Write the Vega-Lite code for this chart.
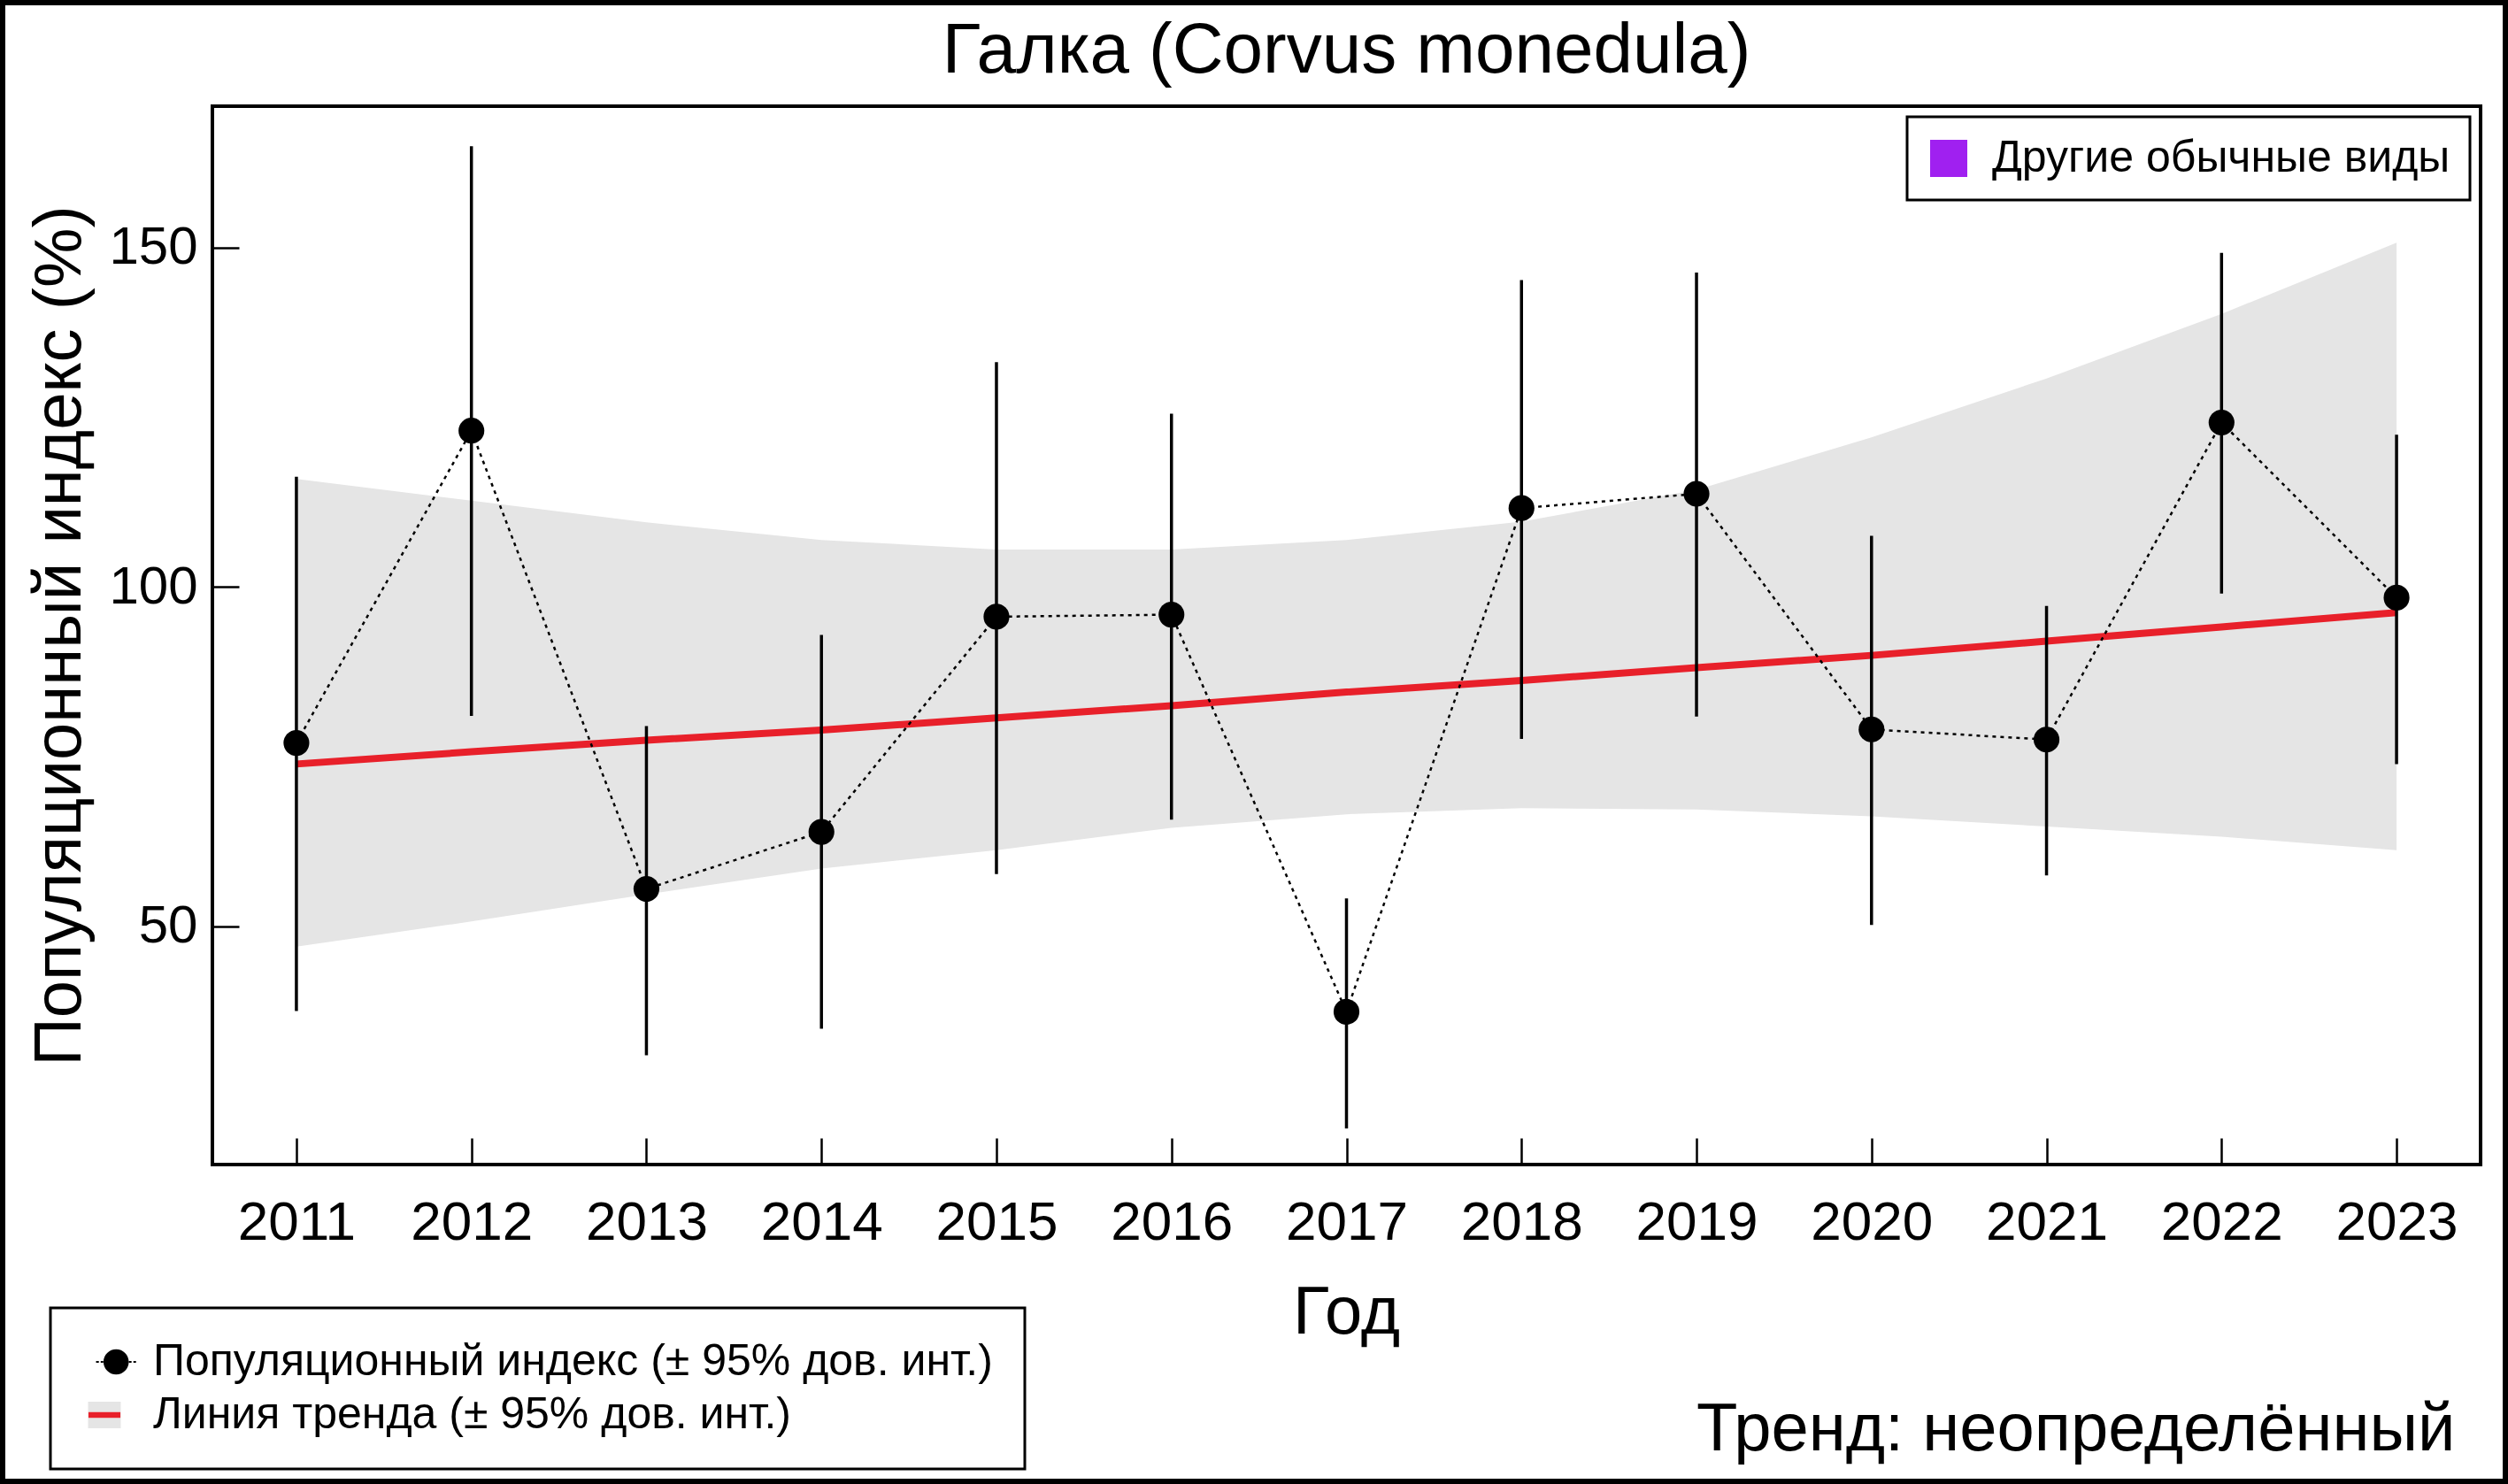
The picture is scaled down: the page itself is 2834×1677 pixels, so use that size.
{
  "$schema": "https://vega.github.io/schema/vega-lite/v6.json",
  "width": 2563,
  "height": 1196,
  "autosize": {"type": "none"},
  "padding": {"left": 240, "top": 120, "right": 31, "bottom": 361},
  "background": "white",
  "title": {"text": "Галка (Corvus monedula)", "fontSize": 80, "font": "Liberation Sans", "fontWeight": "normal", "color": "black", "anchor": "middle", "frame": "group", "baseline": "alphabetic", "offset": -162},
  "data": {"values": [
    {"year": 2011, "index": 77.0, "lo": 37.5, "hi": 116.2, "trend": 73.9, "tlo": 47.0, "thi": 115.9},
    {"year": 2012, "index": 123.0, "lo": 81.0, "hi": 164.9, "trend": 75.7, "tlo": 50.7, "thi": 112.7},
    {"year": 2013, "index": 55.5, "lo": 31.0, "hi": 79.5, "trend": 77.4, "tlo": 54.7, "thi": 109.5},
    {"year": 2014, "index": 63.9, "lo": 34.9, "hi": 92.9, "trend": 78.9, "tlo": 58.5, "thi": 106.9},
    {"year": 2015, "index": 95.6, "lo": 57.7, "hi": 133.1, "trend": 80.7, "tlo": 61.2, "thi": 105.5},
    {"year": 2016, "index": 95.9, "lo": 65.7, "hi": 125.5, "trend": 82.5, "tlo": 64.5, "thi": 105.5},
    {"year": 2017, "index": 37.4, "lo": 20.2, "hi": 54.1, "trend": 84.5, "tlo": 66.5, "thi": 106.9},
    {"year": 2018, "index": 111.6, "lo": 77.6, "hi": 145.2, "trend": 86.2, "tlo": 67.4, "thi": 109.6},
    {"year": 2019, "index": 113.7, "lo": 80.9, "hi": 146.3, "trend": 88.1, "tlo": 67.2, "thi": 114.3},
    {"year": 2020, "index": 79.0, "lo": 50.2, "hi": 107.5, "trend": 89.9, "tlo": 66.2, "thi": 122.0},
    {"year": 2021, "index": 77.5, "lo": 57.5, "hi": 97.2, "trend": 92.0, "tlo": 64.7, "thi": 130.7},
    {"year": 2022, "index": 124.2, "lo": 99.0, "hi": 149.2, "trend": 94.1, "tlo": 63.2, "thi": 140.2},
    {"year": 2023, "index": 98.4, "lo": 73.9, "hi": 122.4, "trend": 96.2, "tlo": 61.2, "thi": 150.7}
  ]},
  "encoding": {
    "x": {"field": "year", "type": "quantitative",
      "scale": {"domain": [2010.52, 2023.48], "nice": false, "zero": false},
      "axis": {"values": [2011, 2012, 2013, 2014, 2015, 2016, 2017, 2018, 2019, 2020, 2021, 2022, 2023], "format": "d", "title": "Год",
        "labelFontSize": 62, "titleFontSize": 76, "tickSize": -30, "tickWidth": 2.5, "labelPadding": 65,
        "labelFlush": false, "labelOverlap": false,
        "titleX": 1281, "titleY": 190, "titleBaseline": "alphabetic", "titleAlign": "center"}}
  },
  "layer": [
    {"mark": {"type": "area", "color": "#E5E5E5", "opacity": 1},
     "encoding": {
       "y": {"field": "tlo", "type": "quantitative",
         "scale": {"domain": [14.9, 170.8], "nice": false, "zero": false},
         "axis": {"values": [50, 100, 150], "title": "Популяционный индекс (%)", "labelFontSize": 60, "titleFontSize": 76,
           "tickSize": -30, "tickWidth": 2.5, "labelPadding": 47, "titleAngle": 270,
           "titleX": -150, "titleY": 598, "titleBaseline": "alphabetic", "titleAlign": "center"}},
       "y2": {"field": "thi"}}},
    {"mark": {"type": "line", "color": "#E8202A", "strokeWidth": 8},
     "encoding": {"y": {"field": "trend", "type": "quantitative", "scale": {"domain": [14.9, 170.8], "nice": false, "zero": false}}}},
    {"mark": {"type": "rule", "color": "black", "strokeWidth": 3.5},
     "encoding": {"y": {"field": "lo", "type": "quantitative", "scale": {"domain": [14.9, 170.8], "nice": false, "zero": false}}, "y2": {"field": "hi"}}},
    {"mark": {"type": "line", "color": "black", "strokeWidth": 2.5, "strokeDash": [4, 5]},
     "encoding": {"y": {"field": "index", "type": "quantitative", "scale": {"domain": [14.9, 170.8], "nice": false, "zero": false}}}},
    {"mark": {"type": "point", "filled": true, "color": "black", "size": 850, "opacity": 1},
     "encoding": {"y": {"field": "index", "type": "quantitative", "scale": {"domain": [14.9, 170.8], "nice": false, "zero": false}}}},
    {"mark": {"type": "point", "filled": true, "opacity": 0},
     "encoding": {
       "y": {"field": "index", "type": "quantitative", "scale": {"domain": [14.9, 170.8], "nice": false, "zero": false}},
       "fill": {"datum": "Популяционный индекс (± 95% дов. инт.)", "type": "nominal",
         "scale": {"domain": ["Популяционный индекс (± 95% дов. инт.)", "Линия тренда (± 95% дов. инт.)"], "range": ["transparent", "#E5E5E5"]},
         "legend": {"title": null, "orient": "none", "legendX": -183, "legendY": 1358, "direction": "vertical", "padding": 36, "rowPadding": 10,
           "symbolSize": 1764, "symbolStrokeWidth": 0, "labelFontSize": 50, "labelOffset": 30, "labelLimit": 3000, "labelOpacity": 0,
           "strokeColor": "transparent", "fillColor": "transparent"}},
       "shape": {"datum": "Популяционный индекс (± 95% дов. инт.)", "type": "nominal",
         "scale": {"domain": ["Популяционный индекс (± 95% дов. инт.)", "Линия тренда (± 95% дов. инт.)"], "range": ["circle", "M-0.88,-0.72H0.88V0.72H-0.88Z M-0.86,-0.16V0.16H0.86V-0.16Z"]},
         "legend": {"title": null, "orient": "none", "legendX": -183, "legendY": 1358, "direction": "vertical", "padding": 36, "rowPadding": 10,
           "symbolSize": 1764, "symbolStrokeWidth": 0, "labelFontSize": 50, "labelOffset": 30, "labelLimit": 3000, "labelOpacity": 0,
           "strokeColor": "transparent", "fillColor": "transparent"}}}},
    {"mark": {"type": "point", "filled": true, "opacity": 0},
     "encoding": {
       "y": {"field": "index", "type": "quantitative", "scale": {"domain": [14.9, 170.8], "nice": false, "zero": false}},
       "fill": {"datum": "Популяционный индекс (± 95% дов. инт.)", "type": "nominal",
         "scale": {"domain": ["Популяционный индекс (± 95% дов. инт.)", "Линия тренда (± 95% дов. инт.)"], "range": ["black", "#E8202A"]},
         "legend": {"title": null, "orient": "none", "legendX": -183, "legendY": 1358, "direction": "vertical", "padding": 36, "rowPadding": 10,
           "symbolSize": 1764, "symbolStrokeWidth": 0, "labelFontSize": 50, "labelOffset": 30, "labelLimit": 3000,
           "strokeColor": "black", "fillColor": "transparent"}},
       "shape": {"datum": "Популяционный индекс (± 95% дов. инт.)", "type": "nominal",
         "scale": {"domain": ["Популяционный индекс (± 95% дов. инт.)", "Линия тренда (± 95% дов. инт.)"], "range": ["M-0.05,0A0.68,0.68,0,1,1,1.31,0A0.68,0.68,0,1,1,-0.05,0Z M-0.45,-0.05H-0.3V0.05H-0.45Z M-0.2,-0.05H-0.06V0.05H-0.2Z M1.32,-0.05H1.46V0.05H1.32Z M1.56,-0.05H1.7V0.05H1.56Z", "M-0.86,-0.16H0.86V0.16H-0.86Z"]},
         "legend": {"title": null, "orient": "none", "legendX": -183, "legendY": 1358, "direction": "vertical", "padding": 36, "rowPadding": 10,
           "symbolSize": 1764, "symbolStrokeWidth": 0, "labelFontSize": 50, "labelOffset": 30, "labelLimit": 3000,
           "strokeColor": "black", "fillColor": "transparent"}}}},
    {"mark": {"type": "point", "filled": true, "opacity": 0},
     "encoding": {
       "y": {"field": "index", "type": "quantitative", "scale": {"domain": [14.9, 170.8], "nice": false, "zero": false}},
       "fill": {"datum": "Другие обычные виды", "type": "nominal",
         "scale": {"domain": ["Другие обычные виды"], "range": ["#A020F0"]},
         "legend": {"title": null, "orient": "top-right", "offset": 12, "padding": 22, "symbolType": "square", "symbolSize": 1764, "symbolStrokeWidth": 0,
           "labelFontSize": 50, "labelOffset": 24, "labelLimit": 3000, "strokeColor": "black", "fillColor": "white"}}}},
    {"mark": {"type": "point", "filled": true, "opacity": 0},
     "encoding": {
       "y": {"field": "index", "type": "quantitative", "scale": {"domain": [14.9, 170.8], "nice": false, "zero": false}},
       "fill": {"datum": "Тренд: неопределённый", "type": "nominal",
         "scale": {"domain": ["Тренд: неопределённый"], "range": ["transparent"]},
         "legend": {"title": null, "orient": "none", "legendX": 1601, "legendY": 1458, "padding": 0, "symbolSize": 0, "symbolOpacity": 0, "symbolStrokeWidth": 0,
           "labelFontSize": 76, "labelOffset": 0, "labelLimit": 3000, "strokeColor": "transparent"}}}},
    {"mark": {"type": "point", "filled": true, "opacity": 0},
     "encoding": {
       "y": {"field": "index", "type": "quantitative", "scale": {"domain": [14.9, 170.8], "nice": false, "zero": false}},
       "fill": {"datum": " ", "type": "nominal",
         "scale": {"domain": [" "], "range": ["transparent"]},
         "legend": {"title": null, "orient": "none", "legendX": -238.5, "legendY": -118.5, "padding": 0,
           "symbolType": "M-1,-1H1V0.18262H-1Z", "symbolSize": 8014561, "symbolOpacity": 0, "symbolStrokeWidth": 0,
           "labelFontSize": 1, "labelOffset": -1415, "labelLimit": 3000, "strokeColor": "black", "fillColor": "transparent"}}}},
    {"mark": {"type": "point", "filled": true, "opacity": 0},
     "encoding": {
       "y": {"field": "index", "type": "quantitative", "scale": {"domain": [14.9, 170.8], "nice": false, "zero": false}},
       "fill": {"datum": "  ", "type": "nominal",
         "scale": {"domain": ["  "], "range": ["transparent"]},
         "legend": {"title": null, "orient": "none", "legendX": -235.5, "legendY": -115.5, "padding": 0,
           "symbolType": "M-1,-1H1V0.18088H-1Z", "symbolSize": 7980625, "symbolOpacity": 0, "symbolStrokeWidth": 0,
           "labelFontSize": 1, "labelOffset": -1412, "labelLimit": 3000, "strokeColor": "black", "fillColor": "transparent"}}}}
  ],
  "resolve": {"scale": {"fill": "independent", "shape": "independent"}, "legend": {"fill": "independent", "shape": "independent"}},
  "config": {
    "font": "Liberation Sans",
    "view": {"stroke": "black", "strokeWidth": 4, "fill": "white"},
    "axis": {"grid": false, "domain": false, "tickColor": "black", "labelColor": "black", "titleColor": "black", "titleFontWeight": "normal", "labelFont": "Liberation Sans", "titleFont": "Liberation Sans"},
    "legend": {"strokeWidth": 3, "labelColor": "black", "labelFont": "Liberation Sans"}
  }
}
